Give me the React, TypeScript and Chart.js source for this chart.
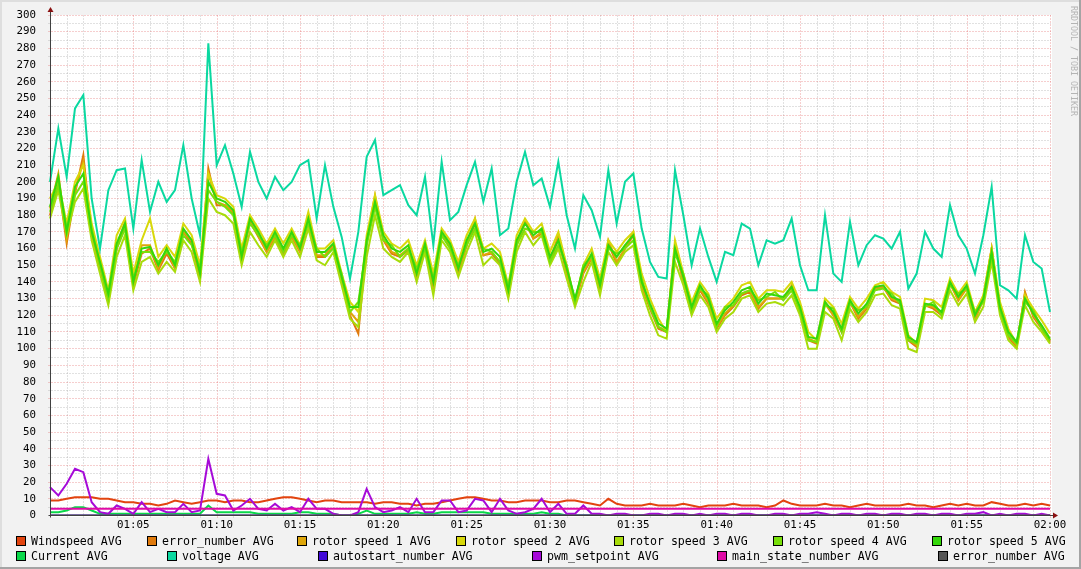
import React, { useEffect, useRef } from 'react';
import { Chart, registerables } from 'chart.js';

Chart.register(...registerables);

// x tick labels (every 5 minutes)
const X_TICK_LABELS = ['01:05', '01:10', '01:15', '01:20', '01:25', '01:30', '01:35', '01:40', '01:45', '01:50', '01:55', '02:00'];

// sample times: every 30 s from 01:00:00 to 02:00:00
const pad = (n: number) => String(n).padStart(2, '0');
const TIMES: string[] = [];
for (let i = 0; i <= 120; i++) {
  const totalMin = 60 + Math.floor(i / 2);
  TIMES.push(`${pad(Math.floor(totalMin / 60))}:${pad(totalMin % 60)}:${pad((i % 2) * 30)}`);
}

const WINDSPEED = [
  9, 9, 10, 11, 11, 11, 10, 10, 9, 8,
  8, 7, 7, 6, 7, 9, 8, 7, 8, 9,
  9, 8, 9, 9, 8, 8, 9, 10, 11, 11,
  10, 9, 8, 9, 9, 8, 8, 8, 8, 7,
  8, 8, 7, 7, 6, 7, 7, 8, 9, 10,
  11, 11, 10, 9, 9, 8, 8, 9, 9, 9,
  8, 8, 9, 9, 8, 7, 6, 10, 7, 6,
  6, 6, 7, 6, 6, 6, 7, 6, 5, 6,
  6, 6, 7, 6, 6, 6, 5, 6, 9, 7,
  6, 6, 6, 7, 6, 6, 5, 6, 7, 6,
  6, 6, 6, 7, 6, 6, 5, 6, 7, 6,
  7, 6, 6, 8, 7, 6, 6, 7, 6, 7,
  6,
];

const ERROR_NUMBER_A = [
  180, 200, 163, 193, 216, 168, 148, 128, 160, 173,
  138, 157, 160, 147, 157, 148, 170, 163, 142, 208,
  186, 186, 181, 152, 176, 167, 158, 166, 157, 167,
  158, 176, 155, 155, 161, 140, 120, 109, 163, 190,
  165, 157, 155, 159, 142, 160, 137, 168, 161, 145,
  162, 175, 156, 157, 151, 132, 162, 176, 166, 169,
  152, 166, 145, 127, 145, 154, 134, 163, 151, 160,
  168, 137, 124, 112, 110, 161, 140, 121, 135, 127,
  112, 120, 125, 132, 134, 124, 130, 130, 130, 137,
  122, 105, 103, 128, 120, 110, 128, 118, 124, 136,
  137, 129, 127, 105, 101, 126, 124, 120, 140, 129,
  137, 117, 131, 160, 124, 107, 101, 134, 119, 112,
  104,
];

const ROTOR_1 = [
  184, 205, 166, 195, 212, 168, 150, 131, 162, 176,
  138, 162, 162, 148, 160, 148, 170, 165, 143, 205,
  188, 186, 182, 153, 178, 168, 158, 168, 158, 168,
  158, 178, 156, 156, 162, 141, 122, 116, 165, 192,
  166, 158, 156, 160, 142, 160, 138, 168, 162, 146,
  162, 178, 156, 158, 152, 133, 163, 177, 166, 170,
  153, 168, 146, 128, 146, 155, 135, 165, 152, 160,
  170, 138, 125, 113, 111, 162, 140, 122, 136, 128,
  113, 121, 126, 133, 135, 125, 130, 130, 130, 138,
  123, 106, 104, 127, 120, 111, 128, 119, 125, 136,
  137, 130, 128, 106, 102, 126, 125, 121, 139, 129,
  136, 118, 129, 160, 124, 108, 102, 133, 120, 113,
  105,
];

const ROTOR_2 = [
  190, 200, 175, 200, 210, 175, 155, 135, 168, 178,
  145, 165, 178, 155, 162, 155, 175, 168, 150, 205,
  192, 190, 185, 160, 180, 172, 163, 172, 163, 172,
  162, 182, 160, 160, 165, 145, 128, 122, 168, 192,
  170, 163, 160, 165, 150, 165, 145, 172, 165, 152,
  168, 178, 160, 163, 158, 138, 168, 178, 170, 175,
  158, 170, 150, 128, 150, 160, 142, 165, 158, 165,
  170, 145, 130, 118, 110, 165, 145, 128, 140, 133,
  118, 125, 130, 138, 140, 130, 135, 135, 134, 140,
  128, 110, 105, 130, 125, 115, 131, 124, 130, 138,
  140, 134, 131, 108, 103, 130, 129, 125, 142, 133,
  140, 122, 132, 160, 128, 112, 103, 132, 124, 117,
  109,
];

const ROTOR_3 = [
  178, 195, 168, 188, 196, 165, 145, 126, 155, 168,
  135, 152, 155, 145, 152, 146, 165, 158, 140, 190,
  182, 180, 175, 150, 170, 162, 155, 165, 155, 165,
  155, 172, 153, 150, 158, 138, 118, 113, 155, 180,
  160, 155, 152, 158, 140, 158, 132, 165, 158, 143,
  158, 170, 150, 155, 150, 130, 158, 170, 162, 168,
  150, 160, 142, 125, 140, 152, 132, 158, 150, 158,
  162, 135, 120, 108, 106, 152, 138, 120, 132, 125,
  110, 118, 122, 130, 132, 122, 127, 128, 126, 132,
  120, 100, 100, 122, 118, 105, 124, 116, 122, 132,
  133, 126, 124, 100, 98, 122, 122, 118, 135, 126,
  133, 116, 125, 152, 120, 105, 100, 126, 116, 110,
  103,
];

const ROTOR_4 = [
  182, 198, 172, 192, 200, 172, 150, 130, 160, 172,
  142, 158, 158, 152, 158, 152, 168, 162, 148, 195,
  188, 185, 180, 158, 175, 168, 162, 168, 158, 168,
  162, 175, 160, 155, 160, 145, 122, 128, 162, 185,
  165, 162, 155, 160, 148, 160, 142, 168, 160, 150,
  162, 172, 160, 158, 152, 138, 162, 172, 170, 170,
  152, 162, 150, 128, 150, 155, 140, 160, 157, 160,
  165, 142, 125, 113, 110, 157, 145, 123, 136, 132,
  113, 125, 126, 133, 135, 129, 131, 134, 129, 135,
  123, 105, 104, 126, 124, 110, 127, 123, 125, 135,
  136, 133, 127, 105, 103, 125, 128, 120, 138, 133,
  136, 122, 128, 156, 123, 108, 103, 128, 123, 112,
  105,
];

const ROTOR_5 = [
  185, 203, 170, 197, 205, 170, 152, 133, 163, 175,
  140, 160, 161, 150, 160, 150, 172, 165, 145, 200,
  190, 188, 183, 155, 178, 170, 160, 170, 160, 170,
  160, 178, 158, 158, 163, 143, 125, 125, 165, 188,
  168, 160, 158, 162, 145, 163, 140, 170, 163, 148,
  165, 175, 158, 160, 155, 135, 165, 175, 168, 172,
  155, 165, 148, 130, 148, 157, 138, 162, 155, 162,
  168, 140, 127, 115, 112, 160, 143, 125, 138, 130,
  115, 123, 128, 135, 137, 127, 133, 132, 131, 137,
  125, 107, 106, 128, 122, 112, 129, 121, 127, 137,
  138, 131, 129, 107, 104, 127, 126, 122, 140, 131,
  138, 120, 130, 158, 125, 110, 104, 130, 121, 114,
  106,
];

const CURRENT = [
  2, 2, 3, 5, 5, 3, 1, 1, 1, 1,
  1, 1, 1, 1, 1, 1, 1, 1, 1, 6,
  2, 2, 2, 2, 2, 1, 1, 1, 1, 1,
  2, 2, 1, 1, 1, 0, 0, 1, 3, 1,
  1, 1, 1, 1, 2, 1, 1, 2, 2, 2,
  2, 2, 2, 1, 1, 1, 1, 1, 1, 2,
  1, 1, 0, 0, 0, 0, 0, 0, 0, 0,
  0, 0, 0, 0, 0, 0, 0, 0, 0, 0,
  0, 0, 0, 0, 0, 0, 0, 0, 0, 0,
  0, 0, 0, 0, 0, 0, 0, 0, 0, 0,
  0, 0, 0, 0, 0, 0, 0, 0, 0, 0,
  0, 0, 0, 0, 0, 0, 0, 0, 0, 0,
  0,
];

const VOLTAGE = [
  200, 232, 203, 244, 252, 190, 160, 195, 207, 208,
  172, 213, 182, 200, 188, 195, 222, 190, 168, 283,
  210, 222, 205, 185, 218, 200, 190, 203, 195, 200,
  210, 213, 178, 210, 185, 167, 142, 170, 215, 225,
  192, 195, 198, 186, 180, 203, 162, 212, 177, 182,
  198, 212, 188, 208, 168, 172, 200, 218, 198, 202,
  185, 212, 180, 160, 192, 183, 167, 207, 175, 200,
  205, 172, 152, 143, 142, 207, 180, 150, 172, 155,
  140, 158, 156, 175, 172, 150, 165, 163, 165, 178,
  150, 135, 135, 180, 145, 140, 176, 150, 162, 168,
  166, 160, 170, 136, 145, 170, 160, 155, 186, 168,
  160, 145, 168, 197, 138, 135, 130, 168, 152, 148,
  122,
];

const AUTOSTART = [
  0, 0, 0, 0, 0, 0, 0, 0, 0, 0, 0, 0, 0, 0, 0, 0, 0, 0, 0, 0,
  0, 0, 0, 0, 0, 0, 0, 0, 0, 0, 0, 0, 0, 0, 0, 0, 0, 0, 0, 0,
  0, 0, 0, 0, 0, 0, 0, 0, 0, 0, 0, 0, 0, 0, 0, 0, 0, 0, 0, 0,
  0, 0, 0, 0, 0, 0, 0, 0, 0, 0, 0, 0, 0, 0, 0, 0, 0, 0, 0, 0,
  0, 0, 0, 0, 0, 0, 0, 0, 0, 0, 0, 0, 0, 0, 0, 0, 0, 0, 0, 0,
  0, 0, 0, 0, 0, 0, 0, 0, 0, 0, 0, 0, 0, 0, 0, 0, 0, 0, 0, 0,
  0,
];

const PWM_SETPOINT = [
  17, 12, 19, 28, 26, 8, 2, 1, 6, 4,
  1, 8, 2, 4, 2, 2, 7, 2, 3, 34,
  13, 12, 3, 6, 10, 4, 3, 7, 3, 5,
  2, 10, 4, 4, 1, 0, 0, 2, 16, 5,
  2, 3, 5, 2, 10, 2, 2, 9, 9, 2,
  3, 10, 9, 2, 10, 3, 1, 2, 4, 10,
  2, 7, 1, 1, 6, 1, 1, 0, 1, 1,
  0, 0, 1, 1, 0, 1, 1, 0, 1, 0,
  1, 1, 0, 1, 1, 0, 0, 1, 1, 0,
  1, 1, 2, 1, 0, 1, 1, 0, 1, 1,
  0, 1, 1, 0, 1, 1, 0, 1, 1, 0,
  1, 1, 2, 0, 1, 0, 1, 1, 0, 1,
  0,
];

const MAIN_STATE = [
  4, 4, 4, 4, 4, 4, 4, 4, 4, 4, 4, 4, 4, 4, 4, 4, 4, 4, 4, 4,
  4, 4, 4, 4, 4, 4, 4, 4, 4, 4, 4, 4, 4, 4, 4, 4, 4, 4, 4, 4,
  4, 4, 4, 4, 4, 4, 4, 4, 4, 4, 4, 4, 4, 4, 4, 4, 4, 4, 4, 4,
  4, 4, 4, 4, 4, 4, 4, 4, 4, 4, 4, 4, 4, 4, 4, 4, 4, 4, 4, 4,
  4, 4, 4, 4, 4, 4, 4, 4, 4, 4, 4, 4, 4, 4, 4, 4, 4, 4, 4, 4,
  4, 4, 4, 4, 4, 4, 4, 4, 4, 4, 4, 4, 4, 4, 4, 4, 4, 4, 4, 4,
  4,
];

const ERROR_NUMBER_B = [
  0, 0, 0, 0, 0, 0, 0, 0, 0, 0, 0, 0, 0, 0, 0, 0, 0, 0, 0, 0,
  0, 0, 0, 0, 0, 0, 0, 0, 0, 0, 0, 0, 0, 0, 0, 0, 0, 0, 0, 0,
  0, 0, 0, 0, 0, 0, 0, 0, 0, 0, 0, 0, 0, 0, 0, 0, 0, 0, 0, 0,
  0, 0, 0, 0, 0, 0, 0, 0, 0, 0, 0, 0, 0, 0, 0, 0, 0, 0, 0, 0,
  0, 0, 0, 0, 0, 0, 0, 0, 0, 0, 0, 0, 0, 0, 0, 0, 0, 0, 0, 0,
  0, 0, 0, 0, 0, 0, 0, 0, 0, 0, 0, 0, 0, 0, 0, 0, 0, 0, 0, 0,
  0,
];

const SERIES_NAMES = [
  'Windspeed AVG', 'error_number AVG', 'rotor speed 1 AVG', 'rotor speed 2 AVG', 'rotor speed 3 AVG',
  'rotor speed 4 AVG', 'rotor speed 5 AVG', 'Current AVG', 'voltage AVG', 'autostart_number AVG',
  'pwm_setpoint AVG', 'main_state_number AVG', 'error_number AVG',
];
const SERIES_VALUES = [
  WINDSPEED, ERROR_NUMBER_A, ROTOR_1, ROTOR_2, ROTOR_3, ROTOR_4, ROTOR_5,
  CURRENT, VOLTAGE, AUTOSTART, PWM_SETPOINT, MAIN_STATE, ERROR_NUMBER_B,
];
const SERIES_COLORS = [
  '#e2440f', '#e07a0c', '#dea60a', '#d8d80a', '#a8dc0a', '#78e00a', '#34d80a',
  '#0ad84a', '#0ad8a0', '#420ad8', '#a60ad8', '#e00aa6', '#555555',
];

const W = 1081;
const H = 569;
const FONT = "'DejaVu Sans Mono', monospace";

// legend layout: [row, boxLeft]
const LEGEND_POS: [number, number][] = [
  [0, 16], [0, 147], [0, 297], [0, 456], [0, 614], [0, 773], [0, 932],
  [1, 16], [1, 167], [1, 318], [1, 532], [1, 717], [1, 938],
];

const rrdPlugin = {
  id: 'rrdLook',
  beforeDraw(chart: any) {
    const { ctx, chartArea: ca } = chart;
    ctx.save();
    ctx.fillStyle = '#f2f2f2';
    ctx.fillRect(0, 0, W, H);
    ctx.fillStyle = '#dedede';
    ctx.fillRect(0, 0, W, 2);
    ctx.fillRect(0, 0, 2, H);
    ctx.fillStyle = '#a4a4a4';
    ctx.fillRect(0, H - 2, W, 2);
    ctx.fillRect(W - 2, 0, 2, H);
    ctx.fillStyle = '#ffffff';
    ctx.fillRect(Math.floor(ca.left), Math.floor(ca.top), Math.ceil(ca.right - ca.left) + 2, Math.ceil(ca.bottom - ca.top) + 1);
    ctx.restore();
  },
  beforeDatasetsDraw(chart: any) {
    const { ctx, chartArea: ca, scales } = chart;
    const xs = scales.x;
    const ys = scales.y;
    ctx.save();
    ctx.lineWidth = 1;
    ctx.setLineDash([1, 2]);
    const top = Math.floor(ca.top);
    const bottom = Math.floor(ca.bottom) + 0.5;
    const left = Math.floor(ca.left) + 0.5;
    const right = Math.floor(ca.right) + 1;
    const drawV = (i: number) => {
      const px = Math.round(xs.getPixelForValue(i)) + 0.5;
      ctx.beginPath();
      ctx.moveTo(px, bottom + 2);
      ctx.lineTo(px, top);
      ctx.stroke();
    };
    const drawH = (v: number) => {
      const py = Math.floor(ys.getPixelForValue(v)) + 0.5;
      ctx.beginPath();
      ctx.moveTo(left - 2, py);
      ctx.lineTo(right, py);
      ctx.stroke();
    };
    ctx.strokeStyle = 'rgba(170,170,170,0.7)';
    for (let i = 2; i <= 120; i += 2) if (i % 10 !== 0) drawV(i);
    for (let v = 5; v <= 300; v += 10) drawH(v);
    ctx.strokeStyle = 'rgba(222,79,79,0.55)';
    for (let i = 10; i <= 120; i += 10) drawV(i);
    for (let v = 10; v <= 300; v += 10) drawH(v);
    ctx.restore();
  },
  afterDatasetsDraw(chart: any) {
    const { ctx, chartArea: ca } = chart;
    const x0 = Math.floor(ca.left) + 0.5;
    const y0 = Math.floor(ca.bottom) + 0.5;
    ctx.save();
    ctx.strokeStyle = '#404040';
    ctx.lineWidth = 1;
    ctx.beginPath();
    ctx.moveTo(x0, y0 + 2);
    ctx.lineTo(x0, ca.top - 3);
    ctx.moveTo(x0 - 2, y0);
    ctx.lineTo(ca.right + 3, y0);
    ctx.stroke();
    ctx.fillStyle = '#8a1010';
    ctx.beginPath();
    ctx.moveTo(x0, ca.top - 8);
    ctx.lineTo(x0 - 3, ca.top - 3);
    ctx.lineTo(x0 + 3, ca.top - 3);
    ctx.closePath();
    ctx.fill();
    ctx.beginPath();
    ctx.moveTo(ca.right + 8, y0);
    ctx.lineTo(ca.right + 3, y0 - 3);
    ctx.lineTo(ca.right + 3, y0 + 3);
    ctx.closePath();
    ctx.fill();
    ctx.restore();
  },
  afterDraw(chart: any) {
    const { ctx } = chart;
    ctx.save();
    ctx.font = `11.6px ${FONT}`;
    ctx.textBaseline = 'middle';
    ctx.textAlign = 'left';
    SERIES_NAMES.forEach((name, i) => {
      const [row, bx] = LEGEND_POS[i];
      const by = row === 0 ? 536 : 551;
      ctx.fillStyle = SERIES_COLORS[i];
      ctx.fillRect(bx, by, 10, 10);
      ctx.strokeStyle = '#000';
      ctx.lineWidth = 1;
      ctx.strokeRect(bx + 0.5, by + 0.5, 9, 9);
      ctx.fillStyle = '#000';
      ctx.fillText(name, bx + 15, by + 5.5);
    });
    // watermark
    ctx.translate(1073, 6);
    ctx.rotate(Math.PI / 2);
    ctx.font = `8.3px ${FONT}`;
    ctx.fillStyle = '#b4b4b4';
    ctx.textBaseline = 'middle';
    ctx.fillText('RRDTOOL / TOBI OETIKER', 0, 0);
    ctx.restore();
  },
};

export default function App() {
  const ref = useRef<HTMLCanvasElement>(null);
  useEffect(() => {
    if (!ref.current) return;
    const datasets = SERIES_NAMES.map((name, i) => ({
      label: name,
      data: SERIES_VALUES[i],
      borderColor: SERIES_COLORS[i],
      backgroundColor: SERIES_COLORS[i],
      borderWidth: 2,
      pointRadius: 0,
      tension: 0,
      fill: false,
      order: 30 - i,
    }));
    const chart = new Chart(ref.current, {
      type: 'line',
      data: { labels: TIMES, datasets },
      options: {
        animation: false,
        responsive: false,
        maintainAspectRatio: false,
        devicePixelRatio: 1,
        layout: { padding: { left: 0, right: 31, top: 15, bottom: 0 } },
        plugins: { legend: { display: false }, tooltip: { enabled: false } },
        scales: {
          x: {
            type: 'category',
            grid: { display: false },
            border: { display: false },
            ticks: {
              autoSkip: false,
              maxRotation: 0,
              minRotation: 0,
              padding: -5,
              color: '#000',
              font: { family: FONT, size: 10.8 },
              callback: (_v: any, idx: number) => (idx > 0 && idx % 10 === 0 ? X_TICK_LABELS[idx / 10 - 1] : ''),
            },
            afterFit: (s: any) => { s.height = 53.5; },
          },
          y: {
            type: 'linear',
            min: 0,
            max: 300,
            grid: { display: false },
            border: { display: false },
            ticks: {
              stepSize: 10,
              autoSkip: false,
              padding: 6,
              color: '#000',
              font: { family: FONT, size: 10.8 },
            },
            afterFit: (s: any) => { s.width = 50; },
          },
        },
      } as any,
      plugins: [rrdPlugin],
    });
    return () => chart.destroy();
  }, []);
  return (
    <div style={{ position: 'fixed', left: 0, top: 0, width: W, height: H }}>
      <canvas ref={ref} width={W} height={H} style={{ display: 'block', width: W, height: H }} />
    </div>
  );
}
